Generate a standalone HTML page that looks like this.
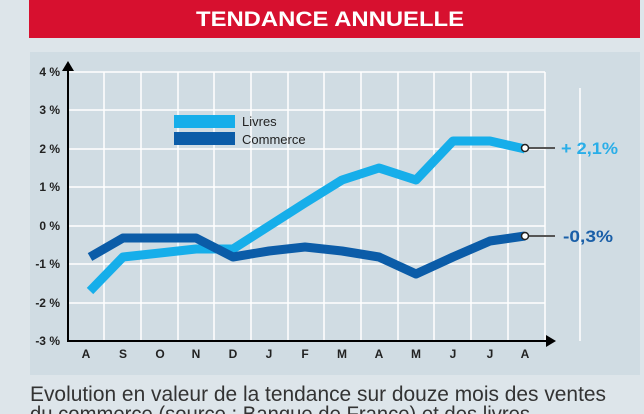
<!DOCTYPE html>
<html><head><style>
body{margin:0;width:644px;height:414px;overflow:hidden;background:#dde5ea;font-family:"Liberation Sans",sans-serif;}
</style></head><body>
<svg width="644" height="414" xmlns="http://www.w3.org/2000/svg" style="position:absolute;left:0;top:0">
<rect x="29" y="0" width="611" height="38" fill="#d7102f"/>
<text x="330" y="26" text-anchor="middle" fill="#fff" font-weight="bold" font-size="21" textLength="268" lengthAdjust="spacingAndGlyphs">TENDANCE ANNUELLE</text>
<rect x="30" y="52" width="610" height="323" fill="#d0dce3"/>
<g stroke="#fff" stroke-width="1.5">
<line x1="68" y1="72" x2="545" y2="72"/><line x1="68" y1="110" x2="545" y2="110"/><line x1="68" y1="149" x2="545" y2="149"/><line x1="68" y1="187" x2="545" y2="187"/><line x1="68" y1="226" x2="545" y2="226"/><line x1="68" y1="264" x2="545" y2="264"/><line x1="68" y1="303" x2="545" y2="303"/>
<line x1="104" y1="72" x2="104" y2="341"/><line x1="141" y1="72" x2="141" y2="341"/><line x1="178" y1="72" x2="178" y2="341"/><line x1="214" y1="72" x2="214" y2="341"/><line x1="251" y1="72" x2="251" y2="341"/><line x1="288" y1="72" x2="288" y2="341"/><line x1="324" y1="72" x2="324" y2="341"/><line x1="361" y1="72" x2="361" y2="341"/><line x1="398" y1="72" x2="398" y2="341"/><line x1="434" y1="72" x2="434" y2="341"/><line x1="471" y1="72" x2="471" y2="341"/><line x1="508" y1="72" x2="508" y2="341"/><line x1="545" y1="72" x2="545" y2="341"/><line x1="580" y1="88" x2="580" y2="341"/>
</g>
<g stroke="#000" stroke-width="2"><line x1="68" y1="68" x2="68" y2="341"/><line x1="67" y1="341" x2="548" y2="341"/></g>
<polygon points="62,71 68,61 74,71" fill="#000"/><polygon points="546,335 556,341 546,347" fill="#000"/>
<g font-size="12" font-weight="bold" fill="#222" text-anchor="end">
<text x="60" y="76">4 %</text><text x="60" y="114">3 %</text><text x="60" y="153">2 %</text><text x="60" y="191">1 %</text><text x="60" y="230">0 %</text><text x="60" y="268">-1 %</text><text x="60" y="307">-2 %</text><text x="60" y="345">-3 %</text>
</g>
<g font-size="12" font-weight="bold" fill="#222" text-anchor="middle">
<text x="86" y="358">A</text><text x="123" y="358">S</text><text x="160" y="358">O</text><text x="196" y="358">N</text><text x="233" y="358">D</text><text x="269" y="358">J</text><text x="305" y="358">F</text><text x="342" y="358">M</text><text x="379" y="358">A</text><text x="416" y="358">M</text><text x="453" y="358">J</text><text x="490" y="358">J</text><text x="525" y="358">A</text>
</g>
<rect x="174" y="115" width="61" height="13" fill="#16aeea"/>
<rect x="174" y="132" width="61" height="13" fill="#0b5ca8"/>
<text x="242" y="126" font-size="13" fill="#222">Livres</text>
<text x="242" y="144" font-size="13" fill="#222">Commerce</text>
<polyline fill="none" stroke="#16aeea" stroke-width="9" stroke-linejoin="round" points="90,291 123,257 160,253 196,249 233,249 269,226 305,203 342,180 379,168 416,180 453,141 490,141 525,149"/>
<polyline fill="none" stroke="#0b5ca8" stroke-width="9" stroke-linejoin="round" points="90,257 123,238 160,238 196,238 233,257 269,251 305,247 342,251 379,257 416,274 453,257 490,241 525,236"/>
<g stroke="#555" stroke-width="2"><line x1="528" y1="148" x2="555" y2="148"/><line x1="528" y1="236" x2="555" y2="236"/></g>
<circle cx="525" cy="148" r="3.5" fill="#fff" stroke="#222" stroke-width="1.5"/>
<circle cx="525" cy="236" r="3.5" fill="#fff" stroke="#222" stroke-width="1.5"/>
<text x="561" y="154" font-size="17" font-weight="bold" fill="#2aaee8" textLength="57" lengthAdjust="spacingAndGlyphs">+ 2,1%</text>
<text x="563" y="242" font-size="17" font-weight="bold" fill="#1a5fa8" textLength="50" lengthAdjust="spacingAndGlyphs">-0,3%</text>
<text x="30" y="401" font-size="21" fill="#333" textLength="576" lengthAdjust="spacingAndGlyphs">Evolution en valeur de la tendance sur douze mois des ventes</text>
<text x="30" y="421" font-size="21" fill="#333" textLength="500" lengthAdjust="spacingAndGlyphs">du commerce (source : Banque de France) et des livres</text>
</svg>
</body></html>
